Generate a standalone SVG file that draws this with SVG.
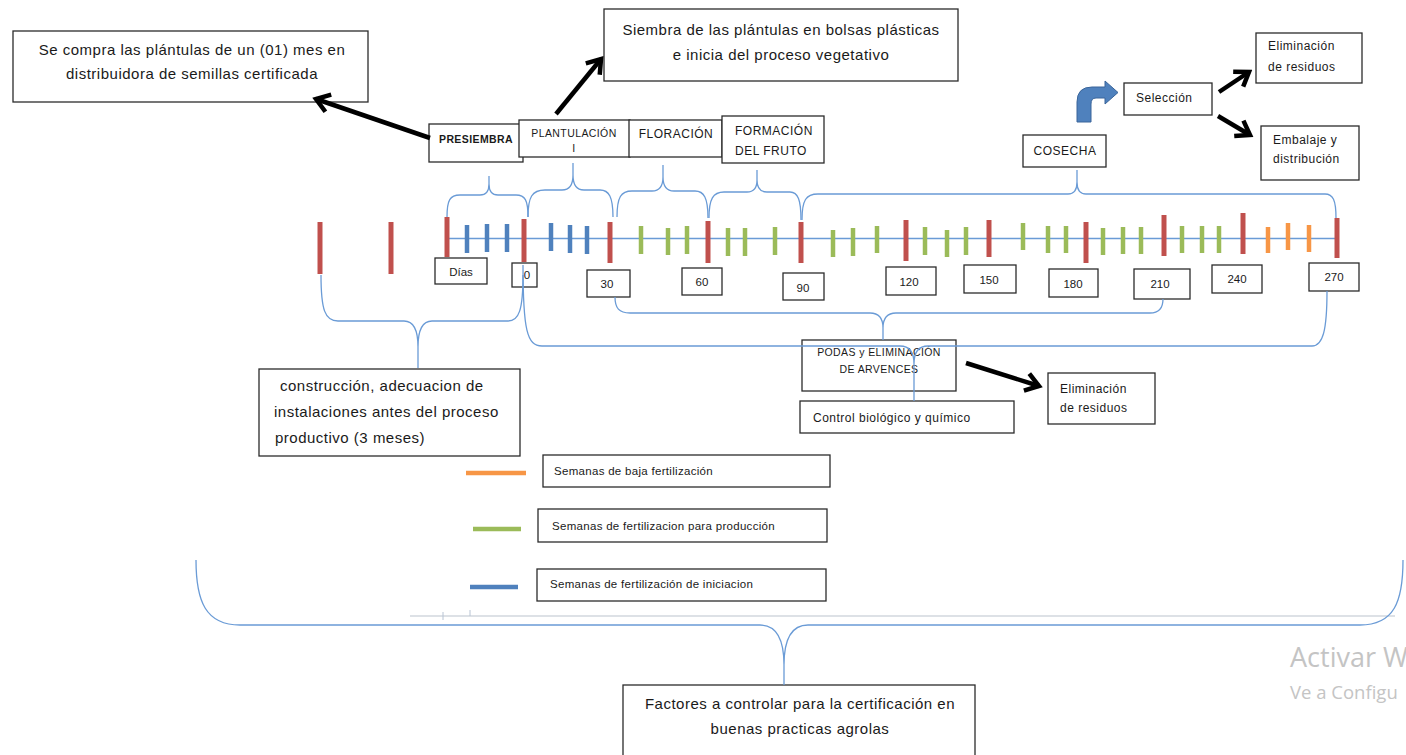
<svg xmlns="http://www.w3.org/2000/svg" width="1406" height="755" viewBox="0 0 1406 755">
<defs>
<style>
.box{fill:#fff;stroke:#2b2b2b;stroke-width:1.3}
.t{font-family:"Liberation Sans",Arial,sans-serif;fill:#1a1a1a}
.big{font-size:15px;letter-spacing:0.5px}
.sm{font-size:12px;letter-spacing:0.5px}
.lg{font-size:11.5px;letter-spacing:0.3px}
.xs{font-size:10.5px;letter-spacing:0.4px}
.num{font-size:11.5px;text-anchor:middle}
.br{fill:none;stroke:#6a9bd6;stroke-width:1.3}
.red{stroke:#c0504d;stroke-width:5}
.blu{stroke:#4f81bd;stroke-width:4.5}
.grn{stroke:#9bbb59;stroke-width:4.5}
.org{stroke:#f79646;stroke-width:4.5}
.arr{fill:none;stroke:#000;stroke-width:4.5;marker-end:url(#ah)}
</style>
<marker id="ah" markerUnits="userSpaceOnUse" viewBox="-16 -12 20 24" refX="0" refY="0" markerWidth="20" markerHeight="24" orient="auto">
<path d="M-13,-9 L0,0 L-13,9" fill="none" stroke="#000" stroke-width="4.5" stroke-linejoin="miter"/>
</marker>
</defs>
<rect width="1406" height="755" fill="#fff"/>

<g id="n-compra"><rect class="box" x="13" y="31" width="355" height="71"/>
<text class="t big" x="192" y="55" text-anchor="middle">Se compra las plántulas de un (01) mes  en</text>
<text class="t big" x="192" y="79" text-anchor="middle">distribuidora de semillas certificada</text></g>

<g id="n-siembra"><rect class="box" x="604" y="9" width="354" height="72"/>
<text class="t big" x="781" y="35" text-anchor="middle">Siembra de las  plántulas en bolsas plásticas</text>
<text class="t big" x="781" y="60" text-anchor="middle">e inicia del proceso vegetativo</text></g>

<g id="n-presiembra"><rect class="box" x="429" y="124" width="94" height="38"/>
<text class="t xs" x="476" y="143" text-anchor="middle" font-weight="bold" font-size="10">PRESIEMBRA</text></g>

<g id="n-plantulacion"><rect class="box" x="519" y="120" width="111" height="37"/>
<text class="t xs" x="574" y="137" text-anchor="middle">PLANTULACIÓN</text>
<text class="t xs" x="574" y="152" text-anchor="middle">I</text></g>

<g id="n-floracion"><rect class="box" x="629" y="120" width="93" height="37"/>
<text class="t sm" x="676" y="138" text-anchor="middle">FLORACIÓN</text></g>

<g id="n-formacion"><rect class="box" x="722" y="116" width="102" height="47"/>
<text class="t sm" x="735" y="135">FORMACIÓN</text>
<text class="t sm" x="735" y="155">DEL FRUTO</text></g>

<g id="n-cosecha"><rect class="box" x="1023" y="135" width="83" height="32"/>
<text class="t sm" x="1065" y="155" text-anchor="middle">COSECHA</text></g>

<g id="n-seleccion"><rect class="box" x="1124" y="83" width="88" height="32"/>
<text class="t sm" x="1136" y="102">Selección</text></g>

<g id="n-elim-top"><rect class="box" x="1256" y="33" width="106" height="50"/>
<text class="t sm" x="1268" y="50">Eliminación</text>
<text class="t sm" x="1268" y="71">de residuos</text></g>

<g id="n-embalaje"><rect class="box" x="1261" y="126" width="98" height="54"/>
<text class="t sm" x="1273" y="144">Embalaje y</text>
<text class="t sm" x="1273" y="163">distribución</text></g>

<g id="n-construccion"><rect class="box" x="259" y="369" width="261" height="87"/>
<text class="t big" x="280" y="391">construcción, adecuacion de</text>
<text class="t big" x="274" y="417">instalaciones antes del proceso</text>
<text class="t big" x="275" y="443">productivo (3 meses)</text></g>

<g id="n-podas"><rect class="box" x="802" y="340" width="154" height="51"/>
<text class="t xs" x="879" y="356" text-anchor="middle">PODAS y ELIMINACIÓN</text>
<text class="t xs" x="879" y="373" text-anchor="middle">DE ARVENCES</text></g>

<g id="n-control"><rect class="box" x="800" y="401" width="214" height="32"/>
<text class="t sm" x="813" y="422" letter-spacing="0.8">Control biológico y químico</text></g>

<g id="n-elim-bottom"><rect class="box" x="1048" y="373" width="107" height="51"/>
<text class="t sm" x="1060" y="393">Eliminación</text>
<text class="t sm" x="1060" y="412">de residuos</text></g>

<g id="n-factores"><rect class="box" x="623" y="685" width="352" height="80"/>
<text class="t big" x="800" y="709" text-anchor="middle">Factores a controlar para la certificación en</text>
<text class="t big" x="800" y="734" text-anchor="middle">buenas practicas agrolas</text></g>

<g id="legend">
<line x1="466" y1="473" x2="526" y2="473" class="org"/>
<rect class="box" x="543" y="455" width="287" height="32"/>
<text class="t lg" x="554" y="475" letter-spacing="0.9">Semanas de baja fertilización</text>
<line x1="473" y1="529" x2="521" y2="529" class="grn"/>
<rect class="box" x="538" y="509" width="289" height="33"/>
<text class="t lg" x="552" y="530">Semanas de fertilizacion para producción</text>
<line x1="470" y1="587" x2="518" y2="587" class="blu"/>
<rect class="box" x="537" y="569" width="289" height="32"/>
<text class="t lg" x="550" y="588">Semanas de fertilización de iniciacion</text>
</g>

<g id="timeline">
<line x1="447" y1="238.5" x2="1337" y2="238.5" stroke="#6a9bd6" stroke-width="1.5"/>
<g class="red">
<line x1="320" y1="222" x2="320" y2="274"/><line x1="391" y1="222" x2="391" y2="274"/>
<line x1="447" y1="217" x2="447" y2="257"/><line x1="524" y1="219" x2="524" y2="262"/>
<line x1="610" y1="222" x2="610" y2="263"/><line x1="708" y1="221" x2="708" y2="263"/>
<line x1="801" y1="222" x2="801" y2="263"/><line x1="906" y1="220" x2="906" y2="261"/>
<line x1="989" y1="220" x2="989" y2="257"/><line x1="1086" y1="222" x2="1086" y2="263"/>
<line x1="1164" y1="215" x2="1164" y2="256"/><line x1="1243" y1="213" x2="1243" y2="254"/>
<line x1="1337" y1="218" x2="1337" y2="258"/>
</g>
<g class="blu">
<line x1="467" y1="225" x2="467" y2="253"/><line x1="487" y1="224" x2="487" y2="252"/><line x1="507" y1="224" x2="507" y2="252"/>
<line x1="551" y1="223" x2="551" y2="251"/><line x1="570" y1="225" x2="570" y2="253"/><line x1="587" y1="226" x2="587" y2="254"/>
</g>
<g class="grn">
<line x1="641" y1="226" x2="641" y2="254"/><line x1="668" y1="228" x2="668" y2="255"/><line x1="687" y1="226" x2="687" y2="254"/>
<line x1="728" y1="228" x2="728" y2="256"/><line x1="745" y1="228" x2="745" y2="256"/><line x1="775" y1="227" x2="775" y2="255"/>
<line x1="833" y1="230" x2="833" y2="257"/><line x1="853" y1="228" x2="853" y2="256"/><line x1="877" y1="226" x2="877" y2="253"/>
<line x1="925" y1="227" x2="925" y2="255"/><line x1="947" y1="230" x2="947" y2="257"/><line x1="966" y1="227" x2="966" y2="255"/>
<line x1="1023" y1="223" x2="1023" y2="250"/><line x1="1048" y1="226" x2="1048" y2="253"/><line x1="1066" y1="226" x2="1066" y2="253"/>
<line x1="1103" y1="228" x2="1103" y2="255"/><line x1="1123" y1="227" x2="1123" y2="254"/><line x1="1141" y1="227" x2="1141" y2="254"/>
<line x1="1182" y1="226" x2="1182" y2="253"/><line x1="1202" y1="226" x2="1202" y2="253"/><line x1="1219" y1="226" x2="1219" y2="253"/>
</g>
<g class="org">
<line x1="1268" y1="227" x2="1268" y2="253"/><line x1="1288" y1="223" x2="1288" y2="250"/><line x1="1309" y1="225" x2="1309" y2="252"/>
</g>
</g>

<g id="day-labels">
<rect class="box" x="435" y="258" width="52" height="26"/><text class="t num" x="461" y="276">Días</text>
<rect class="box" x="512" y="263" width="25" height="24"/><text class="t num" x="527" y="279">0</text>
<rect class="box" x="587" y="270" width="43" height="27"/><text class="t num" x="607" y="288">30</text>
<rect class="box" x="682" y="268" width="40" height="27"/><text class="t num" x="702" y="286">60</text>
<rect class="box" x="783" y="273" width="41" height="27"/><text class="t num" x="803" y="292">90</text>
<rect class="box" x="886" y="267" width="50" height="28"/><text class="t num" x="909" y="286">120</text>
<rect class="box" x="964" y="265" width="52" height="28"/><text class="t num" x="989" y="284">150</text>
<rect class="box" x="1049" y="269" width="49" height="28"/><text class="t num" x="1073" y="288">180</text>
<rect class="box" x="1134" y="269" width="56" height="30"/><text class="t num" x="1160" y="288">210</text>
<rect class="box" x="1212" y="265" width="50" height="28"/><text class="t num" x="1237" y="283">240</text>
<rect class="box" x="1309" y="263" width="50" height="28"/><text class="t num" x="1334" y="281">270</text>
</g>

<g id="artifacts">
<line x1="410" y1="616" x2="1395" y2="616" stroke="#dde1e6" stroke-width="2"/>
<line x1="443" y1="612" x2="443" y2="620" stroke="#b8c4d4" stroke-width="1"/>
<line x1="470" y1="610" x2="470" y2="616" stroke="#b8c4d4" stroke-width="1"/>
<text x="1290" y="667" font-family="'Open Sans','Noto Sans',sans-serif" font-size="27" fill="#c4c4c4">Activar W</text>
<text x="1290" y="699" font-family="'Open Sans','Noto Sans',sans-serif" font-size="18.5" fill="#c4c4c4">Ve a Configu</text>
</g>

<g id="connectors">
<path class="br" d="M447,217 C447,200 450,195 460,195 L480,195 C486,195 489,191 489,184 L489,176 M489,184 C489,191 492,195 498,195 L516,195 C525,195 528,200 528,217"/>
<path class="br" d="M528,217 C528,197 532,190 545,190 L562,190 C569,190 573,185 573,175 L573,163 M573,175 C573,185 577,190 584,190 L600,190 C609,190 613,197 613,217"/>
<path class="br" d="M617,217 C617,197 621,191 632,191 L652,191 C659,191 663,186 663,177 L663,165 M663,177 C663,186 667,191 674,191 L695,191 C704,191 708,198 708,218"/>
<path class="br" d="M709,218 C709,199 713,192 724,192 L747,192 C754,192 757,188 757,180 L757,170 M757,180 C757,188 760,192 767,192 L790,192 C798,192 801,200 801,220"/>
<path class="br" d="M802,220 C802,200 806,194 818,194 L1068,194 C1074,194 1077,190 1077,182 L1077,170 M1077,182 C1077,190 1080,194 1086,194 L1325,194 C1333,194 1336,200 1336,218"/>

<path class="br" d="M321,275 C321,310 325,321 338,321 L404,321 C414,321 418,330 418,347 L418,368 M418,347 C418,330 422,321 432,321 L508,321 C519,321 523,310 523,275"/>
<path class="br" d="M523,265 C523,330 527,346 542,346 L900,346 C910,346 914,352 914,364 L914,401 M914,364 C914,352 918,346 928,346 L1312,346 C1323,346 1327,330 1327,291"/>
<path class="br" d="M615,297 C615,308 619,313 630,313 L870,313 C879,313 883,318 883,328 L883,340 M883,328 C883,318 887,313 896,313 L1150,313 C1160,313 1163,306 1163,299"/>
<path class="br" d="M196,560 C196,602 206,625 240,625 L760,625 C777,625 784,640 784,665 L784,685 M784,665 C784,640 791,625 808,625 L1360,625 C1394,625 1403,602 1403,560"/>

<line class="arr" x1="430" y1="138" x2="316" y2="99"/>
<line class="arr" x1="556" y1="114" x2="601" y2="59"/>
<line class="arr" x1="1219" y1="92" x2="1249" y2="72"/>
<line class="arr" x1="1218" y1="116" x2="1250" y2="135"/>
<line class="arr" x1="966" y1="363" x2="1039" y2="386"/>
<path d="M1077,122 L1077,102 Q1077,87 1092,87 L1105,87 L1105,81 L1118,92.5 L1105,104 L1105,98 L1096,98 Q1091,98 1091,104 L1091,122 Z" fill="#4f81bd" stroke="#3a659a" stroke-width="1"/>
</g>
</svg>
